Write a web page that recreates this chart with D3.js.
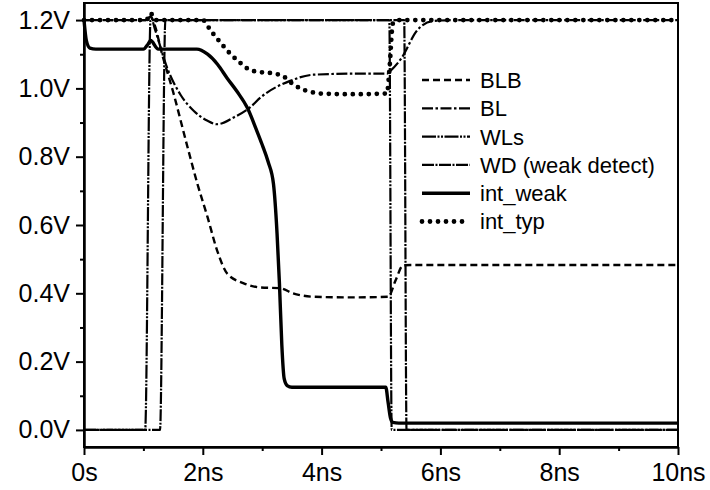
<!DOCTYPE html>
<html>
<head>
<meta charset="utf-8">
<script src="https://cdn.jsdelivr.net/npm/d3@7"></script>
<style>
  body { margin: 0; background: #fff; }
  text { font-family: "Liberation Sans", Arial, sans-serif; fill: #000; }
</style>
</head>
<body>
<div id="chart"></div>
<script>
//Data (time in ns, voltage in V)
var blbT = [0, 1.05, 1.12, 1.2, 1.3, 1.5, 1.74, 1.91, 2.08, 2.24, 2.41, 2.68, 2.97, 3.3, 3.52, 3.86, 4.5, 5.12, 5.25, 5.37, 5.5, 10];
var blbV = [1.2, 1.2, 1.21, 1.18, 1.11, 0.99, 0.83, 0.72, 0.623, 0.526, 0.458, 0.43, 0.417, 0.415, 0.40, 0.39, 0.388, 0.39, 0.44, 0.482, 0.483, 0.483];

var blT = [0, 1.05, 1.12, 1.2, 1.4, 1.63, 1.85, 2.08, 2.24, 2.52, 2.8, 2.97, 3.47, 3.86, 4.5, 5.1, 5.15, 5.35, 5.6, 5.87, 6.2, 10];
var blV = [1.2, 1.2, 1.21, 1.17, 1.06, 0.98, 0.934, 0.905, 0.895, 0.915, 0.945, 0.973, 1.022, 1.04, 1.043, 1.043, 1.05, 1.09, 1.168, 1.197, 1.2, 1.2];

var wlsT = [0, 1.03, 1.12, 5.14, 5.18, 10];
var wlsV = [0, 0, 1.2, 1.2, 0, 0];

var wdT = [0, 1.28, 1.37, 5.39, 5.43, 10];
var wdV = [0, 0, 1.2, 1.2, 0, 0];

var weakT = [0, 0.04, 0.1, 0.2, 1.0, 1.08, 1.12, 1.25, 1.9, 2.08, 2.25, 2.41, 2.58, 2.75, 2.9, 3.0, 3.1, 3.19, 3.25, 3.29, 3.33, 3.37, 3.42, 3.5, 5.08, 5.12, 5.16, 5.2, 5.3, 10];
var weakV = [1.2, 1.14, 1.118, 1.115, 1.115, 1.13, 1.14, 1.115, 1.115, 1.10, 1.07, 1.03, 0.99, 0.943, 0.88, 0.835, 0.785, 0.72, 0.575, 0.43, 0.25, 0.15, 0.13, 0.125, 0.125, 0.08, 0.035, 0.022, 0.02, 0.02];

var typT = [0, 1.05, 1.12, 1.2, 2.0, 2.13, 2.27, 2.47, 2.63, 2.77, 2.94, 3.08, 3.22, 3.36, 3.5, 3.64, 3.81, 3.98, 4.5, 5.1, 5.14, 5.2, 5.3, 10];
var typV = [1.2, 1.2, 1.22, 1.2, 1.2, 1.17, 1.14, 1.1, 1.075, 1.056, 1.048, 1.046, 1.043, 1.035, 1.015, 1.0, 0.99, 0.985, 0.983, 0.985, 1.05, 1.19, 1.2, 1.2];

var seriesNames = ["BLB", "BL", "WLs", "WD (weak detect)", "int_weak", "int_typ"];
var xTicks = [0, 2, 4, 6, 8, 10];
var xTickLabels = ["0s", "2ns", "4ns", "6ns", "8ns", "10ns"];
var yTicks = [0, 0.2, 0.4, 0.6, 0.8, 1.0, 1.2];
var yTickLabels = ["0.0V", "0.2V", "0.4V", "0.6V", "0.8V", "1.0V", "1.2V"];

//Set Margins
var margin = {top: 3, right: 32, bottom: 43, left: 84},
    width = 710 - margin.left - margin.right,
    height = 490 - margin.top - margin.bottom;

var svg = d3.select("#chart")
  .append("svg")
    .attr("width", 710)
    .attr("height", 490)
  .append("g")
    .attr("transform", "translate(" + margin.left + "," + margin.top + ")");

//Scales
var x = d3.scaleLinear().domain([0, 10]).range([0, width]);
var y = d3.scaleLinear().domain([-0.05, 1.25]).range([height, 0]);

//Y axis (major + minor ticks)
var yAxis = svg.append("g")
  .call(d3.axisLeft(y)
    .tickValues(yTicks)
    .tickFormat(function(d, i) { return yTickLabels[i]; })
    .tickSize(8)
    .tickSizeOuter(0)
    .tickPadding(6));
yAxis.selectAll("text").style("font-size", "25px");
svg.append("g")
  .call(d3.axisLeft(y).tickValues([0.1, 0.3, 0.5, 0.7, 0.9, 1.1]).tickFormat("").tickSize(4).tickSizeOuter(0));

//X axis (major + minor ticks)
var xAxis = svg.append("g")
  .attr("transform", "translate(0," + height + ")")
  .call(d3.axisBottom(x)
    .tickValues(xTicks)
    .tickFormat(function(d, i) { return xTickLabels[i]; })
    .tickSize(8)
    .tickSizeOuter(0)
    .tickPadding(8));
xAxis.selectAll("text").style("font-size", "25px");
svg.append("g")
  .attr("transform", "translate(0," + height + ")")
  .call(d3.axisBottom(x).tickValues([1, 3, 5, 7, 9]).tickFormat("").tickSize(4).tickSizeOuter(0));

svg.selectAll(".domain, .tick line").attr("stroke", "#000").attr("stroke-width", 2);

//Frame
svg.append("rect")
  .attr("x", 0).attr("y", 0)
  .attr("width", width).attr("height", height)
  .attr("fill", "none")
  .attr("stroke", "#000")
  .attr("stroke-width", 2);

//Curves
var line = d3.line()
  .x(function(d) { return x(d[0]); })
  .y(function(d) { return y(d[1]); })
  .curve(d3.curveMonotoneX);

var styles = [
  {name: seriesNames[0], t: blbT, v: blbV, w: 2.4, dash: "7,4", cap: "butt"},
  {name: seriesNames[1], t: blT, v: blV, w: 2.2, dash: "11,2.5,2.5,2.5", cap: "butt"},
  {name: seriesNames[2], t: wlsT, v: wlsV, w: 2.2, dash: "14,1.5,2,1.5,2,1.5", cap: "butt"},
  {name: seriesNames[3], t: wdT, v: wdV, w: 2.2, dash: "12,1.5,2,1.5", cap: "butt"},
  {name: seriesNames[4], t: weakT, v: weakV, w: 3.4, dash: null, cap: "butt"},
  {name: seriesNames[5], t: typT, v: typV, w: 4.8, dash: "0,8", cap: "round"}
];

styles.forEach(function(s) {
  var pts = s.t.map(function(t, i) { return [t, s.v[i]]; });
  svg.append("path")
    .datum(pts)
    .attr("d", line)
    .attr("fill", "none")
    .attr("stroke", "#000")
    .attr("stroke-width", s.w)
    .attr("stroke-dasharray", s.dash)
    .attr("stroke-linecap", s.cap)
    .attr("stroke-linejoin", "round");
});

//Legend
var legend = svg.append("g")
  .attr("transform", "translate(" + (420 - margin.left) + "," + (80 - margin.top) + ")");

var legendRow = legend.selectAll("g")
  .data(styles)
  .enter()
  .append("g")
    .attr("transform", function(d, i) { return "translate(0," + (i * 28.3) + ")"; });

legendRow.append("line")
  .attr("x1", 2).attr("x2", 50)
  .attr("stroke", "#000")
  .attr("stroke-width", function(d) { return d.w; })
  .attr("stroke-dasharray", function(d) { return d.dash; })
  .attr("stroke-linecap", function(d) { return d.cap; });

legendRow.append("text")
  .attr("x", 60)
  .attr("dy", "0.36em")
  .style("font-size", "22px")
  .text(function(d) { return d.name; });
</script>
</body>
</html>
